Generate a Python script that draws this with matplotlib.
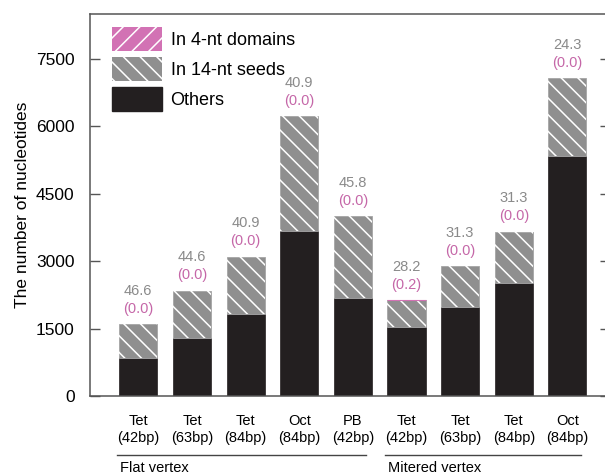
import matplotlib
matplotlib.use("Agg")
import matplotlib.pyplot as plt
import matplotlib.patches as mpatches
import matplotlib.transforms as mtransforms
import numpy as np

# Nucleotide totals per structure and the share (%) in seeds / 4-nt domains
structures = ["Tet\n(42bp)", "Tet\n(63bp)", "Tet\n(84bp)", "Oct\n(84bp)", "PB\n(42bp)",
              "Tet\n(42bp)", "Tet\n(63bp)", "Tet\n(84bp)", "Oct\n(84bp)"]
totals = [1600, 2340, 3100, 6220, 4000, 2130, 2890, 3650, 7060]
seed_pct = [46.6, 44.6, 40.9, 40.9, 45.8, 28.2, 31.3, 31.3, 24.3]
domain_pct = [0.0, 0.0, 0.0, 0.0, 0.0, 0.2, 0.0, 0.0, 0.0]
groups = ["Flat vertex", "Mitered vertex"]
group_span = [(0, 4), (5, 8)]
yticks = [0, 1500, 3000, 4500, 6000, 7500]

plt.rcParams['font.family'] = ['Liberation Sans', 'DejaVu Sans']
plt.rcParams['hatch.linewidth'] = 1.1

black = '#231f20'
grey = '#8f8f8f'
pink = '#d272b4'
label_grey = '#8a8a8a'
label_pink = '#c567a8'

totals = np.array(totals, dtype=float)
seeds = totals * np.array(seed_pct) / 100
domains = totals * np.array(domain_pct) / 100
others = totals - seeds - domains
x = np.arange(len(structures))
w = 0.71

fig = plt.figure(figsize=(6.05, 4.75), dpi=100)
ax = fig.add_axes([0.1488, 0.1663, 0.86, 0.8042])

ax.bar(x, others, w, color=black, edgecolor=black, linewidth=0.5)
ax.bar(x, seeds, w, bottom=others, color=grey, edgecolor='#a5a5a5', linewidth=0.6)
ax.bar(x, seeds, w, bottom=others, color='none', edgecolor='white', hatch='\\\\', linewidth=0)
# only the bars that actually have nucleotides in 4-nt domains
has_dom = domains > 0
ax.bar(x[has_dom], domains[has_dom], w, bottom=(others + seeds)[has_dom],
       color=pink, edgecolor=pink, linewidth=0.8)

for xi, t, sp, dp in zip(x, totals, seed_pct, domain_pct):
    ax.annotate(f"({dp:.1f})", (xi, t), xytext=(0, 6), textcoords='offset points',
                ha='center', va='bottom', fontsize=10.5, color=label_pink)
    ax.annotate(f"{sp:.1f}", (xi, t), xytext=(0, 19), textcoords='offset points',
                ha='center', va='bottom', fontsize=10.5, color=label_grey)

ax.set_xlim(-0.9, 8.8)
ax.set_ylim(0, 8490)
ax.set_yticks(yticks)
ax.set_xticks(x)
ax.set_xticklabels(structures, fontsize=10.5, linespacing=1.25)
ax.tick_params(axis='x', length=0, pad=13)
ax.tick_params(axis='y', direction='in', length=7, width=1, color='#555555',
               labelsize=12.5, pad=11, right=True)
ax.set_ylabel("The number of nucleotides", fontsize=12.5, labelpad=4)
for s in ax.spines.values():
    s.set_color('#555555')
    s.set_linewidth(1.1)

# group brackets under the tick labels
trans = mtransforms.blended_transform_factory(ax.transData, ax.transAxes)
for name, (a, b) in zip(groups, group_span):
    ax.plot([a - 0.4, b + 0.25], [-0.155, -0.155], color='#444444', lw=1,
            transform=trans, clip_on=False)
    ax.text(a - 0.35, -0.198, name, transform=trans, ha='left', va='baseline',
            fontsize=10.5)

handles = [
    mpatches.Patch(facecolor=pink, edgecolor='white', hatch='//', linewidth=0, label='In 4-nt domains'),
    mpatches.Patch(facecolor=grey, edgecolor='white', hatch='\\\\', linewidth=0, label='In 14-nt seeds'),
    mpatches.Patch(facecolor=black, edgecolor=black, label='Others'),
]
ax.legend(handles=handles, loc='upper left', bbox_to_anchor=(0.042, 0.9665),
          frameon=False, fontsize=13, handlelength=2.8, handleheight=1.67,
          labelspacing=0.33, handletextpad=0.45, borderpad=0, borderaxespad=0)

fig.savefig("out.png", dpi=100)
